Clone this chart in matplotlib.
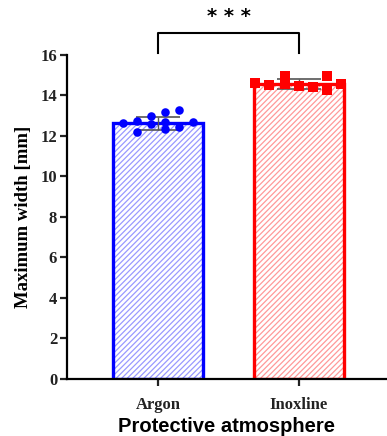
import numpy as np
from matplotlib import pyplot as plt

groups = ["Argon", "Inoxline"]
means = [12.62, 14.55]
sds = [0.33, 0.25]
argon_pts = [12.65, 12.74, 12.18, 12.99, 12.58, 13.18, 12.71, 12.34, 13.28, 12.46, 12.67]
argon_dx = [-0.25, -0.15, -0.15, -0.05, -0.05, 0.05, 0.05, 0.05, 0.15, 0.15, 0.25]
inox_pts = [14.60, 14.50, 14.98, 14.55, 14.47, 14.43, 14.96, 14.27, 14.57]
inox_dx = [-0.31, -0.21, -0.10, -0.10, 0.0, 0.10, 0.20, 0.20, 0.30]

plt.rcParams['hatch.linewidth'] = 0.9

fig = plt.figure(figsize=(3.87, 4.36), dpi=100)
ax = fig.add_axes([0.173, 0.131, 0.827, 0.743])

x = np.arange(len(groups))
strong = ['#0000ff', '#ff0000']
light = ['#9999ff', '#ff9999']
w = 0.64
for i in range(len(groups)):
    ax.bar(x[i], means[i], width=w, color='white', edgecolor=light[i],
           hatch='//////', linewidth=0, zorder=1)
    ax.bar(x[i], means[i], width=w, fill=False, edgecolor=strong[i],
           linewidth=2.4, zorder=2)
    ax.errorbar(x[i], means[i], yerr=sds[i], color='#555555', capsize=16,
                elinewidth=1, capthick=1.2, zorder=3)

ax.scatter(x[0] + np.array(argon_dx), argon_pts, s=38, marker='o',
           color=strong[0], zorder=4, linewidths=0)
ax.scatter(x[1] + np.array(inox_dx), inox_pts, s=55, marker='s',
           color=strong[1], zorder=4, linewidths=0)

ax.set_xlim(-0.645, 1.624)
ax.set_ylim(0, 16)
ax.set_yticks(range(0, 17, 2))
ax.set_xticks(x)
ax.set_xticklabels(groups)
for lab in ax.get_xticklabels() + ax.get_yticklabels():
    lab.set_fontfamily('Liberation Serif')
    lab.set_fontweight('bold')
    lab.set_fontsize(12)
ax.spines['top'].set_visible(False)
ax.spines['right'].set_visible(False)
ax.spines['left'].set_linewidth(1.6)
ax.spines['bottom'].set_linewidth(1.6)
ax.tick_params(axis='both', width=1.6, length=5, colors='#222222', pad=2)
ax.tick_params(axis='x', pad=8)

ax.set_ylabel("Maximum width [mm]", fontfamily='Liberation Serif',
              fontweight='bold', fontsize=13.5, labelpad=6)
ax.set_xlabel("Protective atmosphere", fontfamily='Liberation Sans',
              fontweight='bold', fontsize=14.5, labelpad=3)

# significance bracket
ax.plot([0, 0, 1, 1], [16.1, 17.1, 17.1, 16.1], color='black', lw=1.5,
        clip_on=False)
ax.text(0.5, 17.45, "* * *", ha='center', va='bottom', fontsize=14,
        fontweight='bold', fontfamily='DejaVu Sans')

fig.savefig("out.png", dpi=100)
